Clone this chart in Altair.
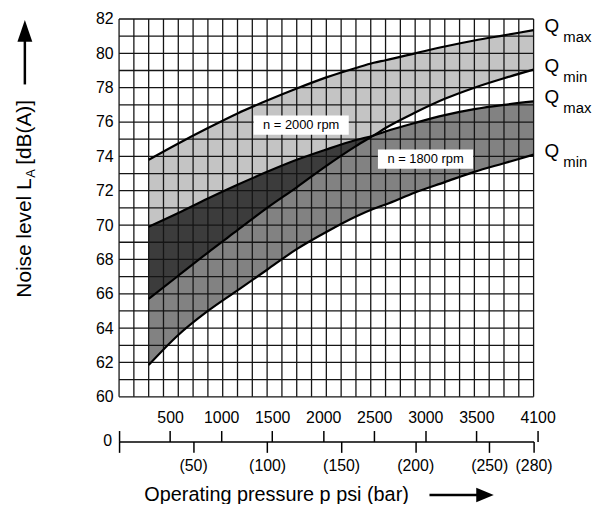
import altair as alt
import pandas as pd

# ---- data (pressure in bar, noise level in dB(A)) ----
bar = [20, 40, 60, 80, 100, 120, 140, 160, 172, 180, 200, 220, 240, 260, 280]
q2000_max = [73.8, 74.75, 75.65, 76.5, 77.25, 77.95, 78.6, 79.15, 79.45, 79.6, 80.0, 80.4, 80.75, 81.05, 81.35]
q2000_min = [65.7, 67.05, 68.4, 69.7, 71.0, 72.2, 73.45, 74.6, 75.22, 75.65, 76.55, 77.35, 78.0, 78.55, 79.05]
q1800_max = [69.9, 70.7, 71.55, 72.35, 73.1, 73.8, 74.4, 74.95, 75.22, 75.45, 75.95, 76.4, 76.75, 77.0, 77.2]
q1800_min = [61.85, 63.6, 65.0, 66.2, 67.4, 68.6, 69.6, 70.5, 70.95, 71.2, 71.9, 72.5, 73.1, 73.6, 74.1]

grid_bar = list(range(0, 281, 10))
grid_db = list(range(60, 83))
y_ticks = list(range(60, 83, 2))
bar_ticks = [0, 50, 100, 150, 200, 250, 280]
psi_ticks = [0, 500, 1000, 1500, 2000, 2500, 3000, 3500, 4100]

rpm_labels = ["n = 2000 rpm", "n = 1800 rpm"]
rpm_bar = [123, 207]
rpm_db = [75.82, 73.84]

q_main = ["Q", "Q", "Q", "Q"]
q_sub = ["max", "min", "max", "min"]

W, H = 418, 381
FONT = "Liberation Sans"
PSI_PER_BAR = 14.5038

df = pd.DataFrame({"bar": bar, "q2000max": q2000_max, "q2000min": q2000_min,
                   "q1800max": q1800_max, "q1800min": q1800_min})
df["ovtop"] = df[["q1800max", "q2000min"]].max(axis=1)

lines = pd.concat([
    pd.DataFrame({"bar": bar, "db": v, "series": n})
    for n, v in [("2000max", q2000_max), ("2000min", q2000_min),
                 ("1800max", q1800_max), ("1800min", q1800_min)]
])

ends = pd.DataFrame({"bar": [bar[-1]] * 4,
                     "db": [q2000_max[-1], q2000_min[-1], q1800_max[-1], q1800_min[-1]],
                     "q": q_main, "sub": q_sub})
rpm = pd.DataFrame({"bar": rpm_bar, "db": rpm_db, "t": rpm_labels})
one = pd.DataFrame({"k": [0]})

xscale = alt.Scale(domain=[0, 280], nice=False, zero=False)
xaxis = alt.Axis(orient="bottom", offset=45, values=bar_ticks, format="d",
                 labelExpr="datum.value == 0 ? '' : '(' + datum.label + ')'",
                 labelOverlap=False, labelFlush=False,
                 tickSize=11, tickWidth=1.5, tickColor="black",
                 domain=True, domainColor="black", domainWidth=1.5,
                 labelPadding=5, labelFontSize=16, labelColor="black", grid=False,
                 title="Operating pressure p psi (bar)", titleAnchor="start", titleAlign="left",
                 titleX=25, titleY=54, titleBaseline="middle", titleFontSize=20,
                 titleFontWeight="normal", titleColor="black")
yscale = alt.Scale(domain=[60, 82], nice=False, zero=False)
yaxis = alt.Axis(values=y_ticks, ticks=False, tickSize=0, domain=False, grid=False,
                 labelOverlap=False, labelFlush=False,
                 labelPadding=6, labelFontSize=16, labelColor="black", title=None)


def X(f="bar"):
    return alt.X(f"{f}:Q", scale=xscale, axis=xaxis)


def Y(f):
    return alt.Y(f"{f}:Q", scale=yscale, axis=yaxis)


base = alt.Chart(df)
band2000 = base.mark_area(color="#c4c4c4", interpolate="monotone").encode(
    x=X(), y=Y("q2000max"), y2="q2000min:Q")
band1800 = base.mark_area(color="#828282", interpolate="monotone").encode(
    x=X(), y=Y("q1800max"), y2="q1800min:Q")
overlap = base.mark_area(color="#3c3c3c", interpolate="monotone").encode(
    x=X(), y=Y("q2000min"), y2="ovtop:Q")

vgrid = alt.Chart(pd.DataFrame({"bar": grid_bar})).mark_rule(
    color="#151515", strokeWidth=1.3).encode(x=X())
hgrid = alt.Chart(pd.DataFrame({"db": grid_db})).mark_rule(
    color="#151515", strokeWidth=1.3).encode(y=Y("db"))

curves = alt.Chart(lines).mark_line(color="black", strokeWidth=2.2, interpolate="monotone").encode(
    x=X(), y=Y("db"), detail="series:N")

boxes = alt.Chart(rpm).mark_point(
    shape="M-1,-0.2L1,-0.2L1,0.2L-1,0.2Z", filled=True, color="white",
    opacity=1, size=9216, strokeWidth=0).encode(x=X(), y=Y("db"))
box_text = alt.Chart(rpm).mark_text(fontSize=13, color="black").encode(
    x=X(), y=Y("db"), text="t:N")

q_text = alt.Chart(ends).mark_text(align="left", baseline="middle", dx=11, dy=-4,
                                   fontSize=19, color="black").encode(
    x=X(), y=Y("db"), text="q:N")
q_sub_text = alt.Chart(ends).mark_text(align="left", baseline="middle", dx=30, dy=7,
                                       fontSize=15, color="black").encode(
    x=X(), y=Y("db"), text="sub:N")

# y-axis title with subscript and arrow
ann = alt.Chart(one)
yt1 = ann.mark_text(angle=270, align="left", baseline="middle", fontSize=21,
                    color="black", text="Noise level L").encode(
    x=alt.value(-95), y=alt.value(281))
yt2 = ann.mark_text(angle=270, align="left", baseline="middle", fontSize=13,
                    color="black", text="A").encode(
    x=alt.value(-89), y=alt.value(160))
yt3 = ann.mark_text(angle=270, align="left", baseline="middle", fontSize=21,
                    color="black", text="[dB(A)]").encode(
    x=alt.value(-95), y=alt.value(147))
yarrow = ann.mark_rule(color="black", strokeWidth=2.5).encode(
    x=alt.value(-95), y=alt.value(22), y2=alt.value(66))
yhead = ann.mark_point(shape="M0,-1.1L0.75,1.1L-0.75,1.1Z", filled=True, color="black",
                       opacity=1, size=400, strokeWidth=0).encode(
    x=alt.value(-95), y=alt.value(12))
xarrow = ann.mark_rule(color="black", strokeWidth=2.5).encode(
    x=alt.value(313), x2=alt.value(362), y=alt.value(480))
xhead = ann.mark_point(shape="M1.1,0L-1.1,-0.9L-1.1,0.9Z", filled=True, color="black",
                       opacity=1, size=256, strokeWidth=0).encode(
    x=alt.value(369), y=alt.value(480))

main = alt.layer(band2000, band1800, overlap, vgrid, hgrid, curves, boxes, box_text,
                 q_text, q_sub_text, yt1, yt2, yt3, yarrow, yhead, xarrow, xhead)

psi_max = 280 * PSI_PER_BAR
psi_layer = alt.Chart(pd.DataFrame({"psi": [0], "t": ["0"]})).mark_text(
    align="right", baseline="middle", dx=-7, fontSize=16, color="black").encode(
    x=alt.X("psi:Q",
            scale=alt.Scale(domain=[0, 4100], range=[0, W * 4100 / psi_max], nice=False, zero=False),
            axis=alt.Axis(orient="top", offset=-426, values=psi_ticks, format="d",
                          labelExpr="datum.value == 0 ? '' : datum.label",
                          labelOverlap=False, labelFlush=False,
                          tickSize=11, tickWidth=1.5, tickColor="black", domain=False,
                          labelPadding=5, labelFontSize=16, labelColor="black",
                          grid=False, title=None)),
    y=alt.value(426), text="t:N")

chart = alt.layer(main, psi_layer).resolve_scale(x="independent").properties(
    width=W, height=H,
    autosize=alt.AutoSizeParams(type="none"),
    padding={"left": 112, "top": 9, "right": 72, "bottom": 106},
).configure_view(stroke=None).configure_axis(
    labelFont=FONT, titleFont=FONT).configure_text(font=FONT)

chart.save("out.html", embed_options={"renderer": "svg", "actions": False})
